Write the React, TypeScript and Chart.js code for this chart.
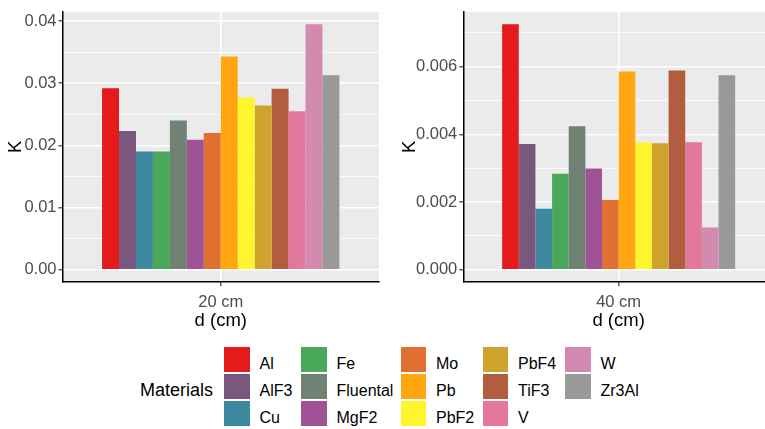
import React, { useEffect, useRef } from 'react';
import { Chart, registerables } from 'chart.js';

Chart.register(...registerables);

// ---------- data ----------
const materials = ['Al', 'AlF3', 'Cu', 'Fe', 'Fluental', 'MgF2', 'Mo', 'Pb', 'PbF2', 'PbF4', 'TiF3', 'V', 'W', 'Zr3Al'];
const materialColors = ['#E41A1C', '#7A577C', '#3C899F', '#4AA85B', '#708273', '#A05297', '#DF7032', '#FFA610', '#FFF52F', '#CFA42D', '#B35D3F', '#E4779C', '#D38AB0', '#999999'];

const category20 = ['20 cm'];
const values20 = [0.0292, 0.0223, 0.0190, 0.0190, 0.0240, 0.0209, 0.0220, 0.0343, 0.0277, 0.0264, 0.0291, 0.0255, 0.0395, 0.0313];
const majorTicks20 = [0, 0.01, 0.02, 0.03, 0.04];
const tickLabels20 = ['0.00', '0.01', '0.02', '0.03', '0.04'];
const minorTicks20 = [0.005, 0.015, 0.025, 0.035];

const category40 = ['40 cm'];
const values40 = [0.00726, 0.00372, 0.00180, 0.00284, 0.00424, 0.00299, 0.00206, 0.00586, 0.00377, 0.00374, 0.00589, 0.00377, 0.00125, 0.00575];
const majorTicks40 = [0, 0.002, 0.004, 0.006];
const tickLabels40 = ['0.000', '0.002', '0.004', '0.006'];
const minorTicks40 = [0.001, 0.003, 0.005, 0.007];

const xTitle = 'd (cm)';
const yTitle = 'K';
const legendTitle = 'Materials';

// ---------- styling ----------
const FONT = '"Liberation Sans", Arial, Helvetica, sans-serif';

const panelBg = {
  id: 'panelBg',
  beforeDraw(chart: any) {
    const { ctx, chartArea } = chart;
    if (!chartArea) return;
    ctx.save();
    ctx.fillStyle = '#EBEBEB';
    ctx.fillRect(chartArea.left, chartArea.top, chartArea.right - chartArea.left, chartArea.bottom - chartArea.top);
    ctx.restore();
  },
};

type PanelProps = {
  labels: string[];
  values: number[];
  majors: number[];
  majorLabels: string[];
  minors: number[];
  width: number;
  height: number;
  left: number;
  yAxisWidth: number;
  yTitlePad: number;
};

function Panel(p: PanelProps) {
  const ref = useRef<HTMLCanvasElement | null>(null);
  useEffect(() => {
    if (!ref.current) return;
    const dataMax = Math.max(...p.values);
    const span = dataMax - 0;
    const yMin = 0 - span * 0.05;
    const yMax = dataMax + span * 0.05;
    const isMajor = (v: number) => p.majors.some((m) => Math.abs(m - v) < 1e-12);
    const allTicks = [...p.majors, ...p.minors].sort((a, b) => a - b);

    const chart = new Chart(ref.current, {
      type: 'bar',
      data: {
        labels: p.labels,
        datasets: materials.map((m, i) => ({
          label: m,
          data: [p.values[i]],
          backgroundColor: materialColors[i],
          borderWidth: 0,
          barPercentage: 1,
          categoryPercentage: 0.75,
        })),
      },
      options: {
        responsive: false,
        animation: false,
        devicePixelRatio: 1,
        layout: { padding: { left: 0, right: 6, top: 6, bottom: 0 } },
        plugins: { legend: { display: false }, tooltip: { enabled: false } },
        scales: {
          x: {
            type: 'category',
            offset: true,
            grid: {
              offset: false,
              color: '#FFFFFF',
              lineWidth: 1.6,
              drawTicks: true,
              tickLength: 4,
              tickColor: '#333333',
              tickWidth: 1.2,
            },
            border: { display: true, color: '#000000', width: 1.5 },
            ticks: { color: '#4D4D4D', font: { family: FONT, size: 16.5 }, padding: 7, maxRotation: 0 },
            title: { display: true, text: xTitle, color: '#000000', font: { family: FONT, size: 18.5 }, padding: 0 },
            afterFit: (s: any) => { s.height = 50; },
          },
          y: {
            type: 'linear',
            min: yMin,
            max: yMax,
            afterBuildTicks: (s: any) => { s.ticks = allTicks.map((v) => ({ value: v })); },
            grid: {
              color: '#FFFFFF',
              lineWidth: (c: any) => (c.tick && isMajor(c.tick.value) ? 1.6 : 0.8),
              drawTicks: true,
              tickLength: 4,
              tickColor: (c: any) => (c.tick && isMajor(c.tick.value) ? '#333333' : 'rgba(0,0,0,0)'),
              tickWidth: 1.2,
            },
            border: { display: true, color: '#000000', width: 1.5 },
            ticks: {
              autoSkip: false,
              color: '#4D4D4D',
              font: { family: FONT, size: 16.5 },
              padding: 2,
              callback: (v: any) => {
                const idx = p.majors.findIndex((m) => Math.abs(m - Number(v)) < 1e-12);
                return idx >= 0 ? p.majorLabels[idx] : '';
              },
            },
            title: { display: true, text: yTitle, color: '#000000', font: { family: FONT, size: 18.5 }, padding: { top: p.yTitlePad, bottom: 0 } },
            afterFit: (s: any) => { s.width = p.yAxisWidth; },
          },
        },
      },
      plugins: [panelBg],
    } as any);
    return () => chart.destroy();
  }, []);
  return (
    <canvas
      ref={ref}
      width={p.width}
      height={p.height}
      style={{ position: 'absolute', left: p.left, top: 0, width: p.width, height: p.height }}
    />
  );
}

const legendColX = [224, 301, 400.5, 482.5, 565];
const KEY = 25.5;
const PITCH = 27.1;
const KEY_TOP = 346.7;

function Legend() {
  return (
    <>
      <div
        style={{
          position: 'absolute', left: 140, top: 396.7 - 0.8465 * 18, fontSize: 18, lineHeight: '18px',
          color: '#000', whiteSpace: 'nowrap',
        }}
      >
        {legendTitle}
      </div>
      {materials.map((m, i) => {
        const col = Math.floor(i / 3);
        const row = i % 3;
        const x = legendColX[col];
        const y = KEY_TOP + row * PITCH;
        return (
          <React.Fragment key={m}>
            <div style={{ position: 'absolute', left: x, top: y, width: KEY, height: KEY, background: materialColors[i] }} />
            <div
              style={{
                position: 'absolute', left: x + 35.5, top: y + 23 - 0.8465 * 16, fontSize: 16, lineHeight: '16px',
                color: '#000', whiteSpace: 'nowrap',
              }}
            >
              {m}
            </div>
          </React.Fragment>
        );
      })}
    </>
  );
}

export default function App() {
  return (
    <div
      style={{
        position: 'fixed', left: 0, top: 0, width: 765, height: 429, overflow: 'hidden',
        background: '#FFFFFF', fontFamily: FONT,
      }}
    >
      <Panel labels={category20} values={values20} majors={majorTicks20} majorLabels={tickLabels20} minors={minorTicks20}
        width={385} height={332} left={0} yAxisWidth={62.5} yTitlePad={5} />
      <Panel labels={category40} values={values40} majors={majorTicks40} majorLabels={tickLabels40} minors={minorTicks40}
        width={390} height={332} left={390} yAxisWidth={73.3} yTitlePad={9} />
      <Legend />
    </div>
  );
}
